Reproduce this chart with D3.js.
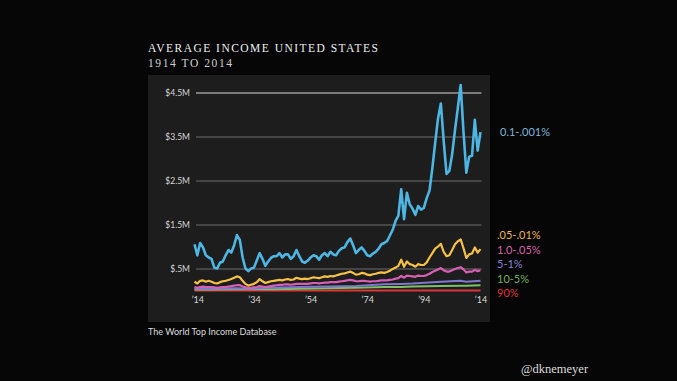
<!DOCTYPE html>
<html>
<head>
<meta charset="utf-8">
<script src="https://cdn.jsdelivr.net/npm/d3@7"></script>
<style>
  html, body { margin: 0; padding: 0; background: #060606; }
  svg { display: block; }
</style>
</head>
<body>
<svg id="chart" width="677" height="381"></svg>
<script>
// values in $M, one per year 1913..2014
var years = d3.range(1913, 2015);

var top001 = [1.05,0.80,1.08,0.98,0.80,0.75,0.72,0.52,0.50,0.63,0.66,0.80,0.92,0.86,1.03,1.26,1.15,0.75,0.50,0.44,
  0.50,0.52,0.68,0.85,0.72,0.56,0.66,0.74,0.78,0.78,0.85,0.75,0.82,0.82,0.72,0.78,0.92,0.78,0.66,0.63,
  0.68,0.75,0.80,0.78,0.70,0.80,0.85,0.78,0.88,0.82,0.80,0.90,0.96,0.98,1.10,1.18,1.03,0.85,0.92,0.98,
  0.90,0.80,0.78,0.84,0.88,0.95,1.05,1.08,1.12,1.25,1.38,1.58,1.70,2.30,1.62,2.22,1.96,1.86,1.72,1.92,
  1.84,1.88,2.10,2.27,2.78,3.36,3.91,4.25,3.40,2.65,2.72,3.10,3.65,4.15,4.67,3.60,2.68,3.04,3.06,3.88,
  3.18,3.60];

var top01 = [0.20,0.16,0.22,0.23,0.20,0.22,0.20,0.17,0.16,0.19,0.21,0.22,0.24,0.26,0.29,0.32,0.30,0.22,0.15,0.11,
  0.13,0.15,0.19,0.26,0.21,0.17,0.19,0.21,0.22,0.23,0.24,0.23,0.25,0.26,0.24,0.25,0.29,0.27,0.26,0.27,
  0.26,0.28,0.30,0.29,0.28,0.30,0.32,0.31,0.33,0.32,0.34,0.36,0.38,0.39,0.41,0.43,0.40,0.36,0.37,0.40,
  0.39,0.36,0.35,0.37,0.38,0.40,0.41,0.40,0.42,0.45,0.49,0.52,0.56,0.70,0.54,0.66,0.60,0.58,0.54,0.60,
  0.58,0.58,0.64,0.75,0.85,0.95,1.00,1.06,0.88,0.78,0.80,0.92,1.05,1.12,1.16,0.96,0.74,0.82,0.84,0.98,
  0.86,0.94];

var top05 = [0.08,0.06,0.08,0.09,0.08,0.08,0.08,0.07,0.06,0.07,0.08,0.08,0.09,0.10,0.11,0.12,0.12,0.09,0.07,0.05,
  0.06,0.07,0.08,0.10,0.09,0.08,0.09,0.10,0.11,0.12,0.13,0.13,0.14,0.14,0.13,0.14,0.15,0.15,0.15,0.15,
  0.15,0.16,0.17,0.17,0.16,0.17,0.18,0.18,0.19,0.19,0.19,0.20,0.21,0.22,0.23,0.24,0.23,0.21,0.21,0.22,
  0.22,0.21,0.20,0.21,0.21,0.22,0.23,0.23,0.23,0.24,0.25,0.27,0.28,0.33,0.29,0.34,0.33,0.32,0.31,0.34,
  0.33,0.33,0.35,0.38,0.42,0.45,0.48,0.51,0.46,0.43,0.43,0.46,0.49,0.51,0.53,0.48,0.41,0.43,0.43,0.47,
  0.44,0.46];

// the flatter groups, read at fewer years
var lowYears = [1913,1920,1928,1932,1940,1950,1960,1970,1980,1986,1990,2000,2007,2009,2014];
var top1  = [0.04,0.04,0.05,0.04,0.06,0.08,0.09,0.10,0.14,0.15,0.16,0.20,0.22,0.20,0.22];
var top5  = [0.02,0.02,0.03,0.03,0.03,0.04,0.05,0.06,0.08,0.08,0.09,0.10,0.11,0.11,0.12];
var bot90 = [0.00,0.00,0.00,0.00,0.00,0.00,0.00,0.00,0.00,0.00,0.00,0.00,0.00,0.00,0.00];

var yTicks = [4.5, 3.5, 2.5, 1.5, 0.5];
var yTickLabels = ["$4.5M", "$3.5M", "$2.5M", "$1.5M", "$.5M"];
var xTicks = [1914, 1934, 1954, 1974, 1994, 2014];
var xTickLabels = ["\u201914", "\u201934", "\u201954", "\u201974", "\u201994", "\u201914"];

var seriesNames = ["0.1-.001%", ".05-.01%", "1.0-.05%", "5-1%", "10-5%", "90%"];
var seriesColors = ["#4db6e2", "#f7c244", "#d85fb6", "#7f78cf", "#7cc268", "#df353b"];
var labelColors = ["#7fb7da", "#f0b45a", "#d964a8", "#8a83d0", "#74b05e", "#e0353d"];

var svg = d3.select("#chart");

var x = d3.scaleLinear().domain([1913, 2014]).range([194.5, 480.5]);
var y = d3.scaleLinear().domain([0, 4.5]).range([290.5, 92.5]);

// panel
svg.append("rect")
  .attr("x", 148).attr("y", 75)
  .attr("width", 342).attr("height", 247)
  .attr("fill", "#1d1d1d");

// gridlines + y labels
var yAxis = d3.axisLeft(y)
  .tickValues(yTicks)
  .tickFormat((d, i) => yTickLabels[i])
  .tickSize(-(481.5 - 196))
  .tickPadding(6);

svg.append("g")
  .attr("transform", "translate(196,0)")
  .call(yAxis)
  .call(g => g.select(".domain").remove())
  .call(g => g.selectAll(".tick line")
    .attr("stroke", (d, i) => i == 0 ? "#d8d8d8" : "#6f6f6f")
    .attr("stroke-width", 1.2))
  .call(g => g.selectAll(".tick text")
    .attr("fill", "#d8d8d8")
    .style("font-family", "Lato")
    .style("font-size", "8.5px"));

var xAxis = d3.axisBottom(x)
  .tickValues(xTicks)
  .tickFormat((d, i) => xTickLabels[i])
  .tickSize(0)
  .tickPadding(0);

svg.append("g")
  .attr("transform", "translate(0,297)")
  .call(xAxis)
  .call(g => g.select(".domain").remove())
  .call(g => g.selectAll(".tick text")
    .attr("fill", "#d8d8d8")
    .style("font-family", "Lato")
    .style("font-size", "9px"));

var line = d3.line()
  .x(d => x(d[0]))
  .y(d => y(d[1]))
  .curve(d3.curveLinear);

var lows = [bot90, top5, top1];
var lowColors = [seriesColors[5], seriesColors[4], seriesColors[3]];
lows.forEach(function(vals, i) {
  svg.append("path")
    .datum(lowYears.map((yr, j) => [yr, vals[j]]))
    .attr("fill", "none")
    .attr("stroke", lowColors[i])
    .attr("stroke-width", 2)
    .attr("d", line);
});

var mains = [top05, top01, top001];
var mainColors = [seriesColors[2], seriesColors[1], seriesColors[0]];
mains.forEach(function(vals, i) {
  svg.append("path")
    .datum(years.map((yr, j) => [yr, vals[j]]))
    .attr("fill", "none")
    .attr("stroke", mainColors[i])
    .attr("stroke-width", i == 2 ? 2.6 : 2.2)
    .attr("stroke-linejoin", "round")
    .attr("d", line);
});

// legend
svg.append("text")
  .attr("x", 500).attr("y", 135.5)
  .attr("fill", labelColors[0])
  .style("font-family", "Lato")
  .style("font-size", "11px")
  .text(seriesNames[0]);

svg.append("g")
  .selectAll("text")
  .data(seriesNames.slice(1))
  .join("text")
    .attr("x", 497)
    .attr("y", (d, i) => 239 + i * 14.5)
    .attr("fill", (d, i) => labelColors[i + 1])
    .style("font-family", "Lato")
    .style("font-size", "11px")
    .text(d => d);

// titles
svg.append("text")
  .attr("x", 148).attr("y", 51.5)
  .attr("fill", "#efefef")
  .attr("textLength", 230)
  .attr("lengthAdjust", "spacing")
  .style("font-family", "Liberation Serif")
  .style("font-size", "11.5px")
  .text("AVERAGE INCOME UNITED STATES");

svg.append("text")
  .attr("x", 148).attr("y", 66.5)
  .attr("fill", "#cfcfcf")
  .attr("textLength", 84)
  .attr("lengthAdjust", "spacing")
  .style("font-family", "Liberation Serif")
  .style("font-size", "11.5px")
  .text("1914 TO 2014");

svg.append("text")
  .attr("x", 148).attr("y", 335)
  .attr("fill", "#dcdcdc")
  .style("font-family", "Lato")
  .style("font-size", "9px")
  .text("The World Top Income Database");

svg.append("text")
  .attr("x", 521).attr("y", 373)
  .attr("fill", "#dcdcdc")
  .style("font-family", "Liberation Serif")
  .style("font-size", "12.5px")
  .text("@dknemeyer");
</script>
</body>
</html>
